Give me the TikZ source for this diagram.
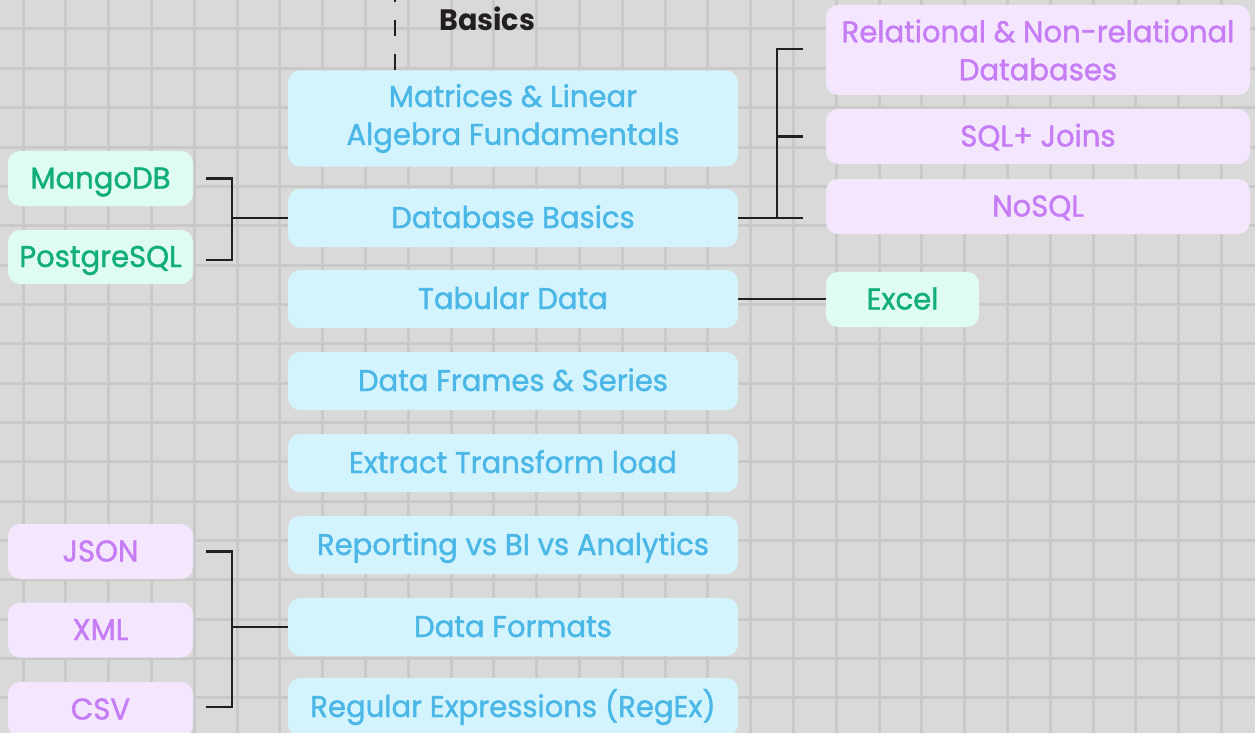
\documentclass[tikz,border=0pt]{standalone}
\usepackage{fontspec}
\setmainfont{Poppins}[FakeBold=1.3, FakeStretch=0.97]
\newfontfamily\titlefont{Poppins}[FakeStretch=0.97]
\usetikzlibrary{calc}
\definecolor{bg}{HTML}{D9D9D9}
\definecolor{gridc}{HTML}{C9C9C9}
\definecolor{bfill}{HTML}{D3F3FD}
\definecolor{btext}{HTML}{4AB7E6}
\definecolor{gfill}{HTML}{DFFCF4}
\definecolor{gtext}{HTML}{11AE7C}
\definecolor{pfill}{HTML}{F3E6FD}
\definecolor{ptext}{HTML}{C67CF4}
\definecolor{linec}{HTML}{231F20}
\tikzset{
  boxbase/.style={rounded corners=12pt, inner sep=0pt, align=center,
    font=\fontsize{30}{38}\selectfont},
  oneline/.style={text height=22pt, text depth=2pt},
  bluebox/.style={boxbase, fill=bfill, text=btext, minimum width=450pt, minimum height=58pt},
  greenbox/.style={boxbase, fill=gfill, text=gtext, minimum height=55pt},
  purplebox/.style={boxbase, fill=pfill, text=ptext, minimum height=55pt},
  conn/.style={draw=linec, line width=2.6pt},
}
\begin{document}
\begin{tikzpicture}[x=1pt,y=-1pt]
\useasboundingbox (0,0) rectangle (1255,733);
\clip (0,0) rectangle (1255,733);
\fill[bg] (0,0) rectangle (1255,733);
\foreach \k in {0,...,28} {\draw[gridc, line width=3pt] (23+42.8*\k,0) -- (23+42.8*\k,733);}
\foreach \k in {0,...,17} {\draw[gridc, line width=3pt] (0,29+39.35*\k) -- (1255,29+39.35*\k);}
% title
\node[anchor=base west, font=\titlefont\fontsize{29.5}{30}\selectfont\bfseries, text=linec, inner sep=0pt] (title) at (439,31) {Basics};
\coordinate (dtop) at (395,0);
% main column
\node[bluebox, minimum height=96pt] (mat) at (513,118.5) {Matrices \& Linear\\Algebra Fundamentals};
\node[bluebox, oneline] (db) at (513,218) {Database Basics};
\node[bluebox, oneline] (tab) at (513,299) {Tabular Data};
\node[bluebox, oneline] (df) at (513,381) {Data Frames \& Series};
\node[bluebox, oneline] (etl) at (513,463) {Extract Transform load};
\node[bluebox, oneline] (rep) at (513,545) {Reporting vs BI vs Analytics};
\node[bluebox, oneline] (fmt) at (513,627) {Data Formats};
\node[bluebox, oneline] (re) at (513,707) {Regular Expressions (RegEx)};
\draw[conn, dash pattern=on 16pt off 18pt, dash phase=14pt] (dtop) -- (mat.north -| dtop);
% left green
\node[greenbox, oneline, minimum width=185pt] (mango) at (100.5,178.5) {MangoDB};
\node[greenbox, oneline, minimum width=185pt, minimum height=54pt] (pg) at (100.5,257) {PostgreSQL};
\coordinate (jl) at (232,218);
\draw[conn] ([xshift=13pt]mango.east) -| (jl);
\draw[conn] ([xshift=13pt,yshift=-3pt]pg.east) -| (jl);
\draw[conn] (jl) -- (db.west);
% right purple
\node[purplebox, minimum width=424pt, minimum height=90pt] (rel) at (1038,50) {Relational \& Non-relational\\Databases};
\node[purplebox, oneline, minimum width=424pt] (sql) at (1038,136.5) {SQL+ Joins};
\node[purplebox, oneline, minimum width=424pt] (nosql) at (1038,206.5) {NoSQL};
\coordinate (jr) at (777,218);
\coordinate (nw) at ([xshift=-23pt]nosql.west);
\draw[conn] ([xshift=-23pt,yshift=1pt]rel.west) -| (jr);
\draw[conn] ([xshift=-23pt]sql.west) -- (sql.west -| jr);
\draw[conn] (db.east) -- (db.east -| nw);
% excel
\node[greenbox, oneline, minimum width=153pt] (excel) at (902.5,299.5) {Excel};
\draw[conn] (tab.east) -- (tab.east -| excel.west);
% bottom left purple
\node[purplebox, oneline, minimum width=185pt] (json) at (100.5,551.5) {JSON};
\node[purplebox, oneline, minimum width=185pt] (xml) at (100.5,630) {XML};
\node[purplebox, oneline, minimum width=185pt] (csv) at (100.5,709.5) {CSV};
\coordinate (jb) at (232,627);
\draw[conn] ([xshift=13pt]json.east) -| (jb);
\draw[conn] ([xshift=13pt,yshift=2.5pt]csv.east) -| (jb);
\draw[conn] (jb) -- (fmt.west);
\end{tikzpicture}
\end{document}
